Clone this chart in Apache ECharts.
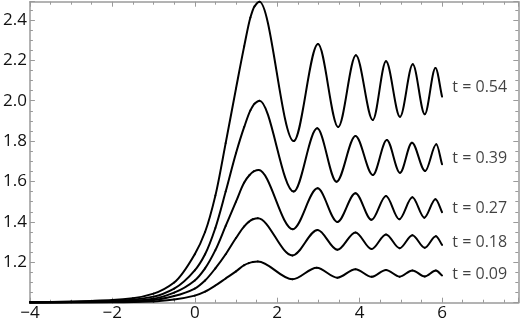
<!DOCTYPE html>
<html><head><meta charset="utf-8">
<script src="https://cdn.jsdelivr.net/npm/echarts@6/dist/echarts.min.js"></script>
<style>html,body{margin:0;padding:0;background:#fff}#c{width:520px;height:323px}</style>
</head><body><div id="c"></div>
<script>
const xTicks = [-4, -2, 0, 2, 4, 6];
const yTicks = [1.2, 1.4, 1.6, 1.8, 2.0, 2.2, 2.4];
const curveNames = ['t = 0.54', 't = 0.39', 't = 0.27', 't = 0.18', 't = 0.09'];
const labelY = [2.066, 1.715, 1.465, 1.297, 1.140];

const c054 = [[-4,1.003],[-3.5,1.004],[-3,1.006],[-2.5,1.009],[-2,1.013],[-1.5,1.022],[-1,1.045],[-0.5,1.10],[0,1.24],[0.25,1.35],[0.5,1.53],[0.75,1.79],[1.0,2.06],[1.2,2.27],[1.35,2.412],[1.45,2.467],[1.57,2.49],[2.4,1.80],[2.99,2.28],[3.48,1.87],[3.91,2.225],[4.32,1.904],[4.64,2.195],[4.98,1.92],[5.29,2.18],[5.58,1.933],[5.84,2.162],[6.0,2.02]];
const c039 = [[-4,1.002],[-3,1.004],[-2,1.009],[-1.5,1.015],[-1,1.03],[-0.5,1.07],[0,1.16],[0.25,1.24],[0.5,1.37],[0.75,1.55],[1.0,1.74],[1.2,1.87],[1.35,1.952],[1.45,1.985],[1.57,2.00],[2.4,1.55],[2.97,1.863],[3.44,1.599],[3.90,1.825],[4.32,1.632],[4.66,1.805],[4.98,1.643],[5.27,1.792],[5.59,1.652],[5.86,1.784],[6.0,1.685]];
const c027 = [[-4,1.001],[-3,1.003],[-2,1.006],[-1.5,1.01],[-1,1.02],[-0.5,1.05],[0,1.11],[0.25,1.17],[0.5,1.26],[0.75,1.38],[1.0,1.50],[1.2,1.595],[1.33,1.632],[1.43,1.650],[1.55,1.657],[2.38,1.364],[2.98,1.566],[3.46,1.40],[3.90,1.542],[4.29,1.41],[4.64,1.528],[4.96,1.413],[5.28,1.522],[5.57,1.421],[5.84,1.512],[6.0,1.448]];
const c018 = [[-4,1.001],[-3,1.002],[-2,1.004],[-1.5,1.006],[-1,1.013],[-0.5,1.033],[0,1.07],[0.25,1.11],[0.5,1.17],[0.75,1.24],[1.0,1.32],[1.2,1.378],[1.31,1.400],[1.41,1.413],[1.53,1.418],[2.37,1.234],[2.98,1.36],[3.46,1.262],[3.90,1.348],[4.29,1.266],[4.64,1.338],[4.97,1.27],[5.28,1.334],[5.58,1.272],[5.85,1.329],[6.0,1.286]];
const c009 = [[-4,1.0005],[-2,1.002],[-1,1.006],[-0.5,1.016],[0,1.035],[0.25,1.055],[0.5,1.085],[0.75,1.12],[1.0,1.155],[1.2,1.186],[1.31,1.196],[1.41,1.2016],[1.53,1.204],[2.37,1.116],[2.96,1.173],[3.46,1.124],[3.90,1.166],[4.29,1.128],[4.64,1.162],[4.97,1.129],[5.28,1.16],[5.58,1.13],[5.85,1.159],[6.0,1.135]];
const curves = [c054, c039, c027, c018, c009];

const FONT = 'Open Sans';
const frame = '#9a9a9a';
const chart = echarts.init(document.getElementById('c'));
function fmtX(v){ return xTicks.indexOf(v) >= 0 ? String(v).replace('-', '\u2212') : ''; }
function fmtY(v){ const r = Math.round(v*10)/10; return yTicks.some(t => Math.abs(t - r) < 1e-6) ? r.toFixed(1) : ''; }
function axis(extra){
  return Object.assign({
    type: 'value',
    axisLine: {show: true, onZero: false, lineStyle: {color: frame, width: 1.5}},
    axisTick: {show: true, inside: true, length: 5, lineStyle: {color: frame, width: 1}},
    minorTick: {show: true, splitNumber: 4, length: 3, lineStyle: {color: frame, width: 1}},
    splitLine: {show: false}
  }, extra);
}

// smooth curve through the data points (shape-preserving cubic), drawn segment by segment
function curveSeries(data) {
  const n = data.length;
  return {
    type: 'custom', coordinateSystem: 'cartesian2d', data: data, encode: {x: 0, y: 1}, z: 3,
    renderItem: function (params, api) {
      const i = params.dataIndexInside;
      if (i >= n - 1) return null;
      const P = j => api.coord([api.value(0, j), api.value(1, j)]);
      const slope = j => {
        const p = P(j);
        if (j === 0) { const q = P(1); return (q[1] - p[1]) / (q[0] - p[0]); }
        if (j === n - 1) { const q = P(n - 2); return (p[1] - q[1]) / (p[0] - q[0]); }
        const a = P(j - 1), b = P(j + 1);
        const h0 = p[0] - a[0], h1 = b[0] - p[0];
        const d0 = (p[1] - a[1]) / h0, d1 = (b[1] - p[1]) / h1;
        if (d0 * d1 <= 0) return 0;
        const w1 = 2 * h1 + h0, w2 = h1 + 2 * h0;
        return (w1 + w2) / (w1 / d0 + w2 / d1);
      };
      const p0 = P(i), p1 = P(i + 1), h = p1[0] - p0[0];
      const m0 = slope(i), m1 = slope(i + 1);
      return {
        type: 'bezierCurve',
        shape: {x1: p0[0], y1: p0[1], x2: p1[0], y2: p1[1],
          cpx1: p0[0] + h / 3, cpy1: p0[1] + m0 * h / 3,
          cpx2: p1[0] - h / 3, cpy2: p1[1] - m1 * h / 3},
        style: {stroke: '#000', lineWidth: 2, fill: null, lineCap: 'round'}
      };
    }
  };
}
const series = curves.map(curveSeries);
series.push({
  type: 'scatter', symbolSize: 0,
  data: labelY.map((y, i) => ({value: [6.25, y], name: curveNames[i]})),
  label: {show: true, position: 'right', distance: 0, formatter: p => p.name,
    fontFamily: FONT, fontSize: 16, color: '#111'}
});
chart.setOption({
  animation: false,
  grid: {left: 29.3, right: 1.7, top: 1.7, bottom: 20.3},
  xAxis: [
    axis({min: -4, max: 7.85, interval: 2, position: 'bottom',
      axisLabel: {formatter: fmtX, showMaxLabel: false, fontFamily: FONT, fontSize: 17, color: '#111', margin: 2}}),
    axis({min: -4, max: 7.85, interval: 2, position: 'top', axisLabel: {show: false}})
  ],
  yAxis: [
    axis({min: 1.0, max: 2.49, interval: 0.2, position: 'left',
      axisLabel: {formatter: fmtY, showMinLabel: false, showMaxLabel: false, fontFamily: FONT, fontSize: 17, color: '#111', margin: 3}}),
    axis({min: 1.0, max: 2.49, interval: 0.2, position: 'right', axisLabel: {show: false}})
  ],
  series: series
});
</script></body></html>
